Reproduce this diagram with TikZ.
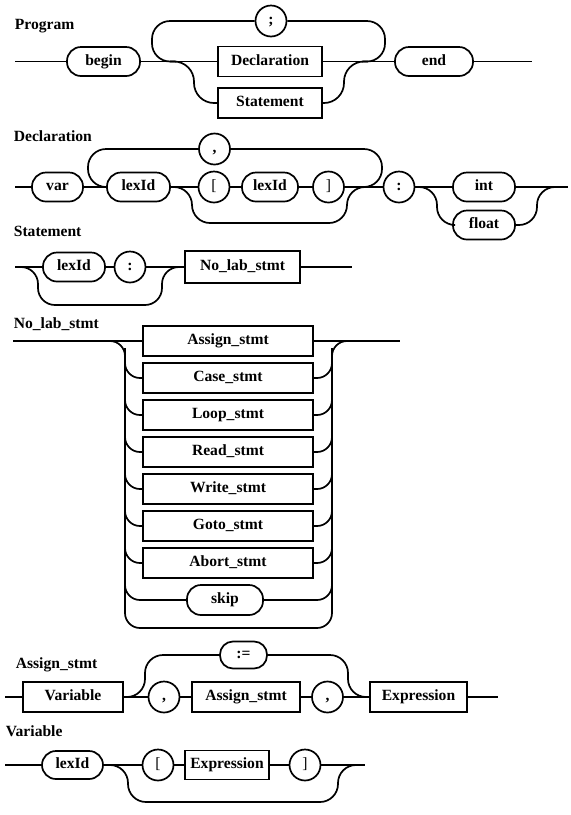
\documentclass[tikz,border=0pt]{standalone}
\usepackage{fontspec}
\setmainfont{Liberation Serif}
\begin{document}
\begin{tikzpicture}[x=1pt,y=-1pt, line width=1.7pt,
  every node/.style={font=\fontsize{15.6}{18}\selectfont\bfseries, inner sep=0pt},
  sym/.style={text height=10.5pt, text depth=3pt},
  box/.style={sym, draw, rectangle, minimum height=30pt},
  pill/.style={sym, draw, rectangle, rounded corners=14pt, minimum height=29pt},
  circ/.style={sym, draw, circle, minimum size=31pt},
  title/.style={anchor=base west}
]
\useasboundingbox (0,0) rectangle (571,815);

% ---------------- Program
\node[title] (tProgram) at (14,29.5) {Program};
\coordinate (p0) at (15,61.5);
\node[pill, minimum width=73pt] (begin) at (103.5,61.5) {begin};
\node[box, minimum width=104pt] (decl) at (270,61.5) {Declaration};
\node[circ] (semi) at (271,21) {;};
\node[box, minimum width=104pt] (stmt) at (270,103) {Statement};
\node[pill, minimum width=78pt] (pend) at (434,61.5) {end};
\coordinate (p1) at (532,61.5);
\draw (p0) -- (begin) -- (decl) -- (pend) -- (p1);
\draw[rounded corners=18pt] (176,61.5) -- (152,61.5) -- (152,21) -- (semi.west);
\draw[rounded corners=18pt] (semi.east) -- (385,21) -- (385,61.5) -- (362,61.5);
\draw[rounded corners=20pt] (170,61.5) -- (194,61.5) -- (194,103) -- (stmt.west);
\draw[rounded corners=20pt] (stmt.east) -- (344,103) -- (344,61.5) -- (368,61.5);

% ---------------- Declaration
\node[title] (tDecl) at (13,141.5) {Declaration};
\coordinate (d0) at (15,187);
\node[pill, minimum width=51pt] (var) at (57.5,187) {var};
\node[pill, minimum width=63pt] (lex1) at (138.5,187) {lexId};
\node[circ] (lbr) at (214,187) {\mdseries[};
\node[pill, minimum width=56pt] (lex2) at (270,187) {lexId};
\node[circ] (rbr) at (328.5,187) {\mdseries]};
\node[circ] (colon) at (399,187) {:};
\node[pill, minimum width=62pt] (int) at (484,187) {int};
\node[pill, minimum width=62pt] (float) at (484,225) {float};
\node[circ] (comma) at (214.5,149) {,};
\coordinate (d1) at (568,187);
\draw (d0) -- (var) -- (lex1) -- (lbr) -- (lex2) -- (rbr) -- (colon) -- (int) -- (d1);
\draw[rounded corners=18pt] (lex1.west) -- (88,187) -- (88,149) -- (comma.west);
\draw[rounded corners=18pt] (comma.east) -- (382,149) -- (382,187) -- (360,187);
\draw[rounded corners=18pt] (lex1.east) -- (192,187) -- (192,223) -- (347,223) -- (347,187) -- (367,187);
\draw[rounded corners=18pt] (colon.east) -- (437,187) -- (437,225) -- (float.west);
\draw[rounded corners=18pt] (float.east) -- (537,225) -- (537,187) -- (557,187);

% ---------------- Statement
\node[title] (tStmt) at (13,236.5) {Statement};
\coordinate (s0) at (15,267);
\node[pill, minimum width=62pt] (slex) at (74,267) {lexId};
\node[circ] (scolon) at (130,267) {:};
\node[box, minimum width=115pt, minimum height=32pt] (nolab) at (242.5,267) {No\_lab\_stmt};
\coordinate (s1) at (352,267);
\draw (s0) -- (slex) -- (scolon) -- (nolab) -- (s1);
\draw[rounded corners=17pt] (s0) -- (38,267) -- (38,305) -- (162,305) -- (162,267) -- (182,267);

% ---------------- No_lab_stmt
\node[title] (tNolab) at (13,328) {No\_lab\_stmt};
\coordinate (n0) at (13,341);
\node[box, minimum width=170pt] (assign) at (228,341) {Assign\_stmt};
\node[box, minimum width=170pt] (case) at (228,378) {Case\_stmt};
\node[box, minimum width=170pt] (loop) at (228,415) {Loop\_stmt};
\node[box, minimum width=170pt] (read) at (228,452) {Read\_stmt};
\node[box, minimum width=170pt] (write) at (228,489) {Write\_stmt};
\node[box, minimum width=170pt] (goto) at (228,526) {Goto\_stmt};
\node[box, minimum width=170pt] (abort) at (228,563) {Abort\_stmt};
\node[pill, minimum width=76pt, minimum height=30pt] (skip) at (225,600) {skip};
\coordinate (n1) at (400,341);
\draw (n0) -- (assign) -- (n1);
\draw[rounded corners=15pt] (100,341) -- (125,341) -- (125,628) -- (332,628) -- (332,341) -- (357,341);
\foreach \nm/\yy in {case/378, loop/415, read/452, write/489, goto/526, abort/563, skip/600}{
  \draw[rounded corners=15pt] (125,\yy-30) -- (125,\yy) -- (\nm.west);
  \draw[rounded corners=15pt] (\nm.east) -- (332,\yy) -- (332,\yy-30);
}

% ---------------- Assign_stmt
\node[title] (tAssign) at (15,668) {Assign\_stmt};
\coordinate (a0) at (5,697);
\node[box, minimum width=100pt] (var2) at (73,697) {Variable};
\node[circ] (c1) at (164,697) {,};
\node[box, minimum width=108pt] (as2) at (246,697) {Assign\_stmt};
\node[circ] (c2) at (327.5,697) {,};
\node[box, minimum width=97pt] (expr) at (418.5,697) {Expression};
\node[pill, minimum width=47pt, minimum height=27pt, rounded corners=13pt] (asg) at (243.5,655) {:=};
\coordinate (a1) at (498,697);
\draw (a0) -- (var2) -- (c1) -- (as2) -- (c2) -- (expr) -- (a1);
\draw[rounded corners=18pt] (var2.east) -- (145,697) -- (145,655) -- (asg.west);
\draw[rounded corners=18pt] (asg.east) -- (348,655) -- (348,697) -- (expr.west);

% ---------------- Variable
\node[title] (tVar) at (5,736.5) {Variable};
\coordinate (v0) at (5,765);
\node[pill, minimum width=61pt, minimum height=28pt] (vlex) at (72.5,765) {lexId};
\node[circ] (vl) at (158,765) {\mdseries[};
\node[box, minimum width=84pt, minimum height=29pt] (vexpr) at (227,765) {Expression};
\node[circ] (vr) at (305,765) {\mdseries]};
\coordinate (v1) at (365,765);
\draw (v0) -- (vlex) -- (vl) -- (vexpr) -- (vr) -- (v1);
\draw[rounded corners=18pt] (vlex.east) -- (128,765) -- (128,802) -- (338,802) -- (338,765) -- (358,765);
\end{tikzpicture}
\end{document}
